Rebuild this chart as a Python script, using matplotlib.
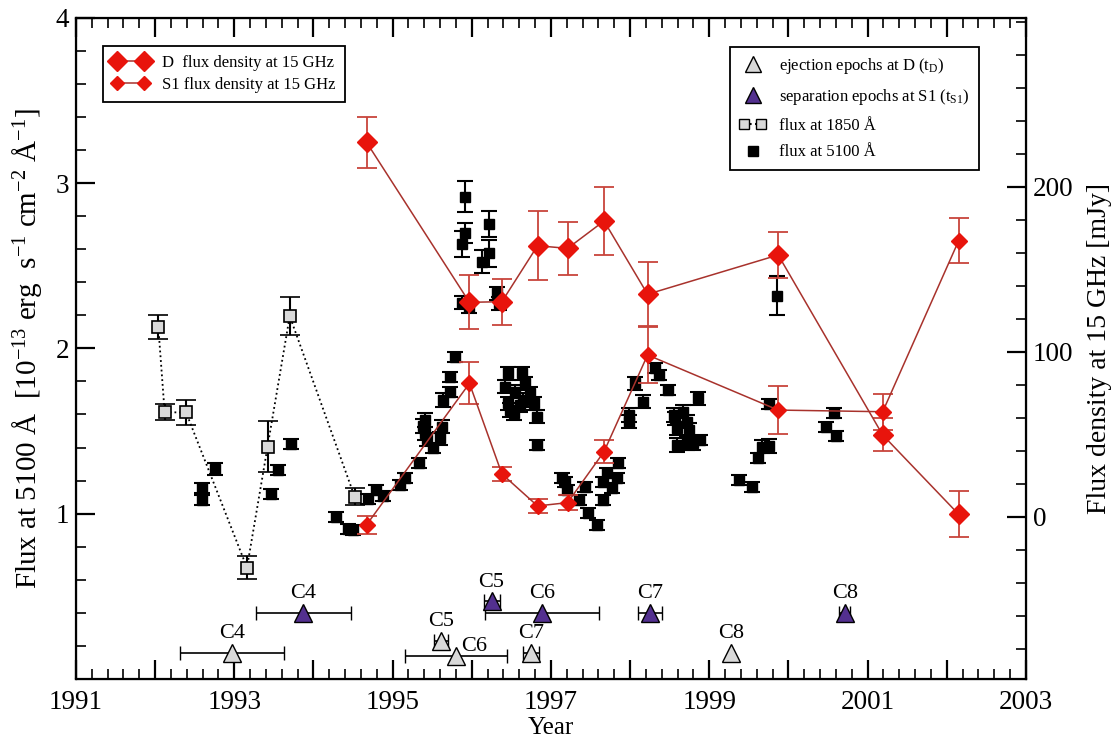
import numpy as np
import matplotlib.pyplot as plt
from matplotlib.ticker import MultipleLocator, FixedLocator, FuncFormatter
from matplotlib.lines import Line2D
from matplotlib.legend_handler import HandlerLine2D

plt.rcParams['font.family'] = ['Liberation Serif', 'DejaVu Serif']
plt.rcParams['mathtext.fontset'] = 'custom'
plt.rcParams['mathtext.rm'] = 'Liberation Serif'
plt.rcParams['mathtext.it'] = 'Liberation Serif:italic'

# ---------------------------------------------------------------
# optical continuum, 5100 A (filled squares)
# ---------------------------------------------------------------
opt_year = [1992.59, 1992.59, 1992.75, 1993.46, 1993.55, 1993.72, 1994.29, 1994.44,
            1994.50, 1994.69, 1994.79, 1994.88, 1995.09, 1995.16, 1995.33, 1995.38,
            1995.41, 1995.41, 1995.44, 1995.51, 1995.60, 1995.62, 1995.64, 1995.73,
            1995.73, 1995.79, 1995.87, 1995.92, 1995.92, 1996.22, 1996.22, 1996.13,
            1995.87, 1995.96, 1996.32, 1996.34, 1996.46, 1996.63, 1996.67, 1996.42,
            1996.55, 1996.74, 1996.46, 1996.61, 1996.53, 1996.78, 1996.82, 1996.82,
            1996.65, 1996.48, 1997.14, 1997.18, 1997.20, 1997.43, 1997.36, 1997.47,
            1997.58, 1997.66, 1997.77, 1997.83, 1997.85, 1997.66, 1997.71, 1997.99,
            1997.99, 1998.06, 1998.16, 1998.32, 1998.36, 1998.48, 1998.55, 1998.57,
            1998.67, 1998.72, 1998.74, 1998.59, 1998.72, 1998.80, 1998.86, 1998.59,
            1998.88, 1999.75, 1999.86, 1999.66, 1999.75, 1999.62, 1999.38, 1999.54,
            2000.57, 2000.48, 2000.60]
opt_flux = [1.154, 1.083, 1.269, 1.119, 1.264, 1.420, 0.978, 0.910,
            0.901, 1.087, 1.143, 1.107, 1.174, 1.214, 1.305, 1.530,
            1.567, 1.486, 1.450, 1.396, 1.456, 1.526, 1.688, 1.738,
            1.829, 1.946, 2.632, 2.696, 2.918, 2.753, 2.575, 2.525,
            2.277, 2.252, 2.333, 2.273, 1.849, 1.849, 1.789, 1.768,
            1.738, 1.728, 1.668, 1.658, 1.607, 1.668, 1.587, 1.416,
            1.688, 1.627, 1.214, 1.194, 1.143, 1.163, 1.083, 1.002,
            0.932, 1.194, 1.154, 1.214, 1.305, 1.083, 1.244, 1.557,
            1.597, 1.789, 1.678, 1.880, 1.839, 1.748, 1.597, 1.577,
            1.617, 1.557, 1.506, 1.416, 1.426, 1.426, 1.698, 1.517,
            1.446, 1.664, 2.319, 1.405, 1.410, 1.335, 1.204, 1.163,
            1.607, 1.526, 1.470]
opt_err = [0.03, 0.03, 0.035, 0.03, 0.03, 0.03, 0.03, 0.03,
           0.03, 0.03, 0.03, 0.03, 0.03, 0.03, 0.03, 0.04,
           0.04, 0.04, 0.04, 0.03, 0.04, 0.04, 0.04, 0.03,
           0.03, 0.03, 0.08, 0.06, 0.094, 0.08, 0.08, 0.07,
           0.04, 0.04, 0.04, 0.04, 0.04, 0.04, 0.04, 0.04,
           0.04, 0.04, 0.04, 0.04, 0.04, 0.04, 0.04, 0.03,
           0.04, 0.04, 0.03, 0.03, 0.03, 0.03, 0.03, 0.03,
           0.03, 0.03, 0.03, 0.03, 0.03, 0.03, 0.03, 0.04,
           0.04, 0.04, 0.04, 0.03, 0.03, 0.03, 0.04, 0.04,
           0.04, 0.04, 0.04, 0.04, 0.04, 0.04, 0.04, 0.04,
           0.03, 0.03, 0.12, 0.04, 0.04, 0.03, 0.03, 0.03,
           0.03, 0.03, 0.03]

# ultraviolet, 1850 A (open squares)
uv_year = [1992.04, 1992.12, 1992.39, 1993.16, 1993.42, 1993.70, 1994.52]
uv_flux = [2.131, 1.613, 1.613, 0.673, 1.405, 2.195, 1.103]
uv_err = [0.073, 0.048, 0.076, 0.070, 0.155, 0.117, 0.050]

# ---------------------------------------------------------------
# 15 GHz VLBA flux densities of D and S1 (mJy)
# ---------------------------------------------------------------
radio_year = [1994.67, 1995.97, 1996.38, 1996.83, 1997.21, 1997.67, 1998.22,
              1999.87, 2001.19, 2002.15]
d_flux = [227.1, 130.1, 130.5, 164.4, 162.8, 179.4, 135.0, 158.8, 49.7, 1.6]
d_err = [15.3, 16.3, 14.0, 20.8, 16.0, 20.7, 19.5, 13.8, 10.0, 14.0]
s1_flux = [-4.8, 81.0, 26.1, 6.7, 8.7, 39.6, 98.2, 64.8, 63.8, 167.5]
s1_err = [5.5, 12.7, 4.3, 4.5, 4.7, 7.0, 17.0, 14.7, 11.0, 13.5]

# ---------------------------------------------------------------
# component epochs
# ---------------------------------------------------------------
comp_names = ['C4', 'C5', 'C6', 'C7', 'C8']
ej_year = [1992.97, 1995.61, 1995.80, 1996.75, 1999.27]
ej_level = [0.16, 0.23, 0.14, 0.16, 0.16]
ej_xerr = [0.66, 0.09, 0.64, 0.10, np.nan]
sep_year = [1993.87, 1996.25, 1996.89, 1998.25, 2000.71]
sep_level = [0.40, 0.47, 0.40, 0.40, 0.40]
sep_xerr = [0.60, 0.10, 0.72, 0.15, 0.07]

red = '#e8140c'
red_line = '#a8322c'
red_err = '#c8443c'
purple = '#53308f'
grey = '#d9d9d9'

fig = plt.figure(figsize=(11.14, 7.47), dpi=100)
ax = fig.add_axes([0.0682, 0.0910, 0.8528, 0.8853])

ax.errorbar(opt_year, opt_flux, yerr=opt_err, fmt='s', color='black', ms=7,
            capsize=6, elinewidth=1.5, capthick=1.5, zorder=3)
ax.errorbar(uv_year, uv_flux, yerr=uv_err, fmt='s', ls=':', lw=1.3, color='black',
            mfc=grey, mec='black', mew=1.2, ms=8, capsize=7,
            elinewidth=1.5, capthick=1.5, zorder=2)

ax.errorbar(ej_year, ej_level, xerr=ej_xerr, fmt='^', color='black', mfc=grey,
            mec='black', mew=1.0, ms=13, capsize=5, elinewidth=1.2, capthick=1.2,
            zorder=4)
ax.errorbar(sep_year, sep_level, xerr=sep_xerr, fmt='^', color='black', mfc=purple,
            mec='black', mew=1.0, ms=13, capsize=5, elinewidth=1.2, capthick=1.2,
            zorder=4)

for i, name in enumerate(comp_names):
    if name == 'C6':
        ax.annotate(name, (ej_year[i], ej_level[i]), xytext=(13, 0),
                    textcoords='offset points', ha='center', va='bottom', fontsize=16)
    else:
        ax.annotate(name, (ej_year[i], ej_level[i]), xytext=(0, 7),
                    textcoords='offset points', ha='center', va='bottom', fontsize=16)
    ax.annotate(name, (sep_year[i], sep_level[i]), xytext=(0, 7),
                textcoords='offset points', ha='center', va='bottom', fontsize=16)

ax.set_xlim(1991, 2003)
ax.set_ylim(0, 4)

ax.xaxis.set_major_locator(MultipleLocator(1))
ax.xaxis.set_minor_locator(MultipleLocator(0.2))
ax.xaxis.set_major_formatter(FuncFormatter(
    lambda v, p: str(int(round(v))) if int(round(v)) % 2 == 1 else ''))
ax.yaxis.set_major_locator(FixedLocator([1, 2, 3, 4]))
ax.yaxis.set_minor_locator(MultipleLocator(0.2))
ax.tick_params(which='both', direction='in', top=True, right=False, labelsize=19.5)
ax.tick_params(which='major', length=14, width=1.6, pad=5)
ax.tick_params(axis='x', which='major', pad=8)
ax.tick_params(which='minor', length=7, width=1.2)
for s in ax.spines.values():
    s.set_linewidth(1.6)

ax.set_xlabel('Year', fontsize=18, labelpad=1)
ax.set_ylabel(r'Flux at 5100 Å  [10$^{-13}$ erg  s$^{-1}$ cm$^{-2}$ Å$^{-1}$]',
              fontsize=21, labelpad=8)

# radio flux densities on the right-hand scale
ax2 = ax.twinx()
ax2.errorbar(radio_year, d_flux, yerr=d_err, fmt='-D', color=red_line, lw=1.1,
             mfc=red, mec=red, ms=10, ecolor=red_err, capsize=7,
             elinewidth=1.3, capthick=1.3, zorder=5)
ax2.errorbar(radio_year, s1_flux, yerr=s1_err, fmt='-D', color=red_line, lw=1.1,
             mfc=red, mec=red, ms=8, ecolor=red_err, capsize=7,
             elinewidth=1.3, capthick=1.3, zorder=5)
ax2.set_ylim(-98.2, 302.6)
ax2.yaxis.set_major_locator(FixedLocator([0, 100, 200]))
ax2.yaxis.set_minor_locator(MultipleLocator(20))
ax2.tick_params(which='both', direction='in', labelsize=19.5)
ax2.tick_params(which='major', length=14, width=1.6, pad=5)
ax2.tick_params(which='minor', length=7, width=1.2)
ax2.set_ylabel('Flux density at 15 GHz [mJy]', fontsize=20, labelpad=10)

# legends
h_d = Line2D([], [], color=red_line, lw=1.1, marker='D', mfc=red, mec=red, ms=10)
h_s1 = Line2D([], [], color=red_line, lw=1.1, marker='D', mfc=red, mec=red, ms=7)
leg1 = ax2.legend([h_d, h_s1], ['D  flux density at 15 GHz', 'S1 flux density at 15 GHz'],
                  loc='upper left', bbox_to_anchor=(0.0284, 0.957), borderaxespad=0,
                  numpoints=2, handlelength=2.2, fontsize=12, fancybox=False,
                  edgecolor='black', framealpha=1, borderpad=0.55, labelspacing=0.35)
leg1.get_frame().set_linewidth(1.3)
ax2.add_artist(leg1)

h_ej = Line2D([], [], ls='none', marker='^', mfc=grey, mec='black', ms=12)
h_sep = Line2D([], [], ls='none', marker='^', mfc=purple, mec='black', ms=12)
h_uv = Line2D([], [], ls=':', color='black', marker='s', mfc=grey, mec='black', ms=7)
h_opt = Line2D([], [], ls='none', marker='s', color='black', ms=7)
leg2 = ax2.legend([h_ej, h_sep, h_uv, h_opt],
                  [r'ejection epochs at D (t$_\mathrm{D}$)',
                   r'separation epochs at S1 (t$_\mathrm{S1}$)',
                   'flux at 1850 Å', 'flux at 5100 Å'],
                  loc='upper right', bbox_to_anchor=(0.9505, 0.956), borderaxespad=0,
                  numpoints=1, handler_map={h_uv: HandlerLine2D(numpoints=2)},
                  handlelength=1.6, fontsize=12, fancybox=False, edgecolor='black',
                  framealpha=1, borderpad=0.55, labelspacing=0.65)
leg2.get_frame().set_linewidth(1.3)

fig.savefig('out.png', dpi=100)
